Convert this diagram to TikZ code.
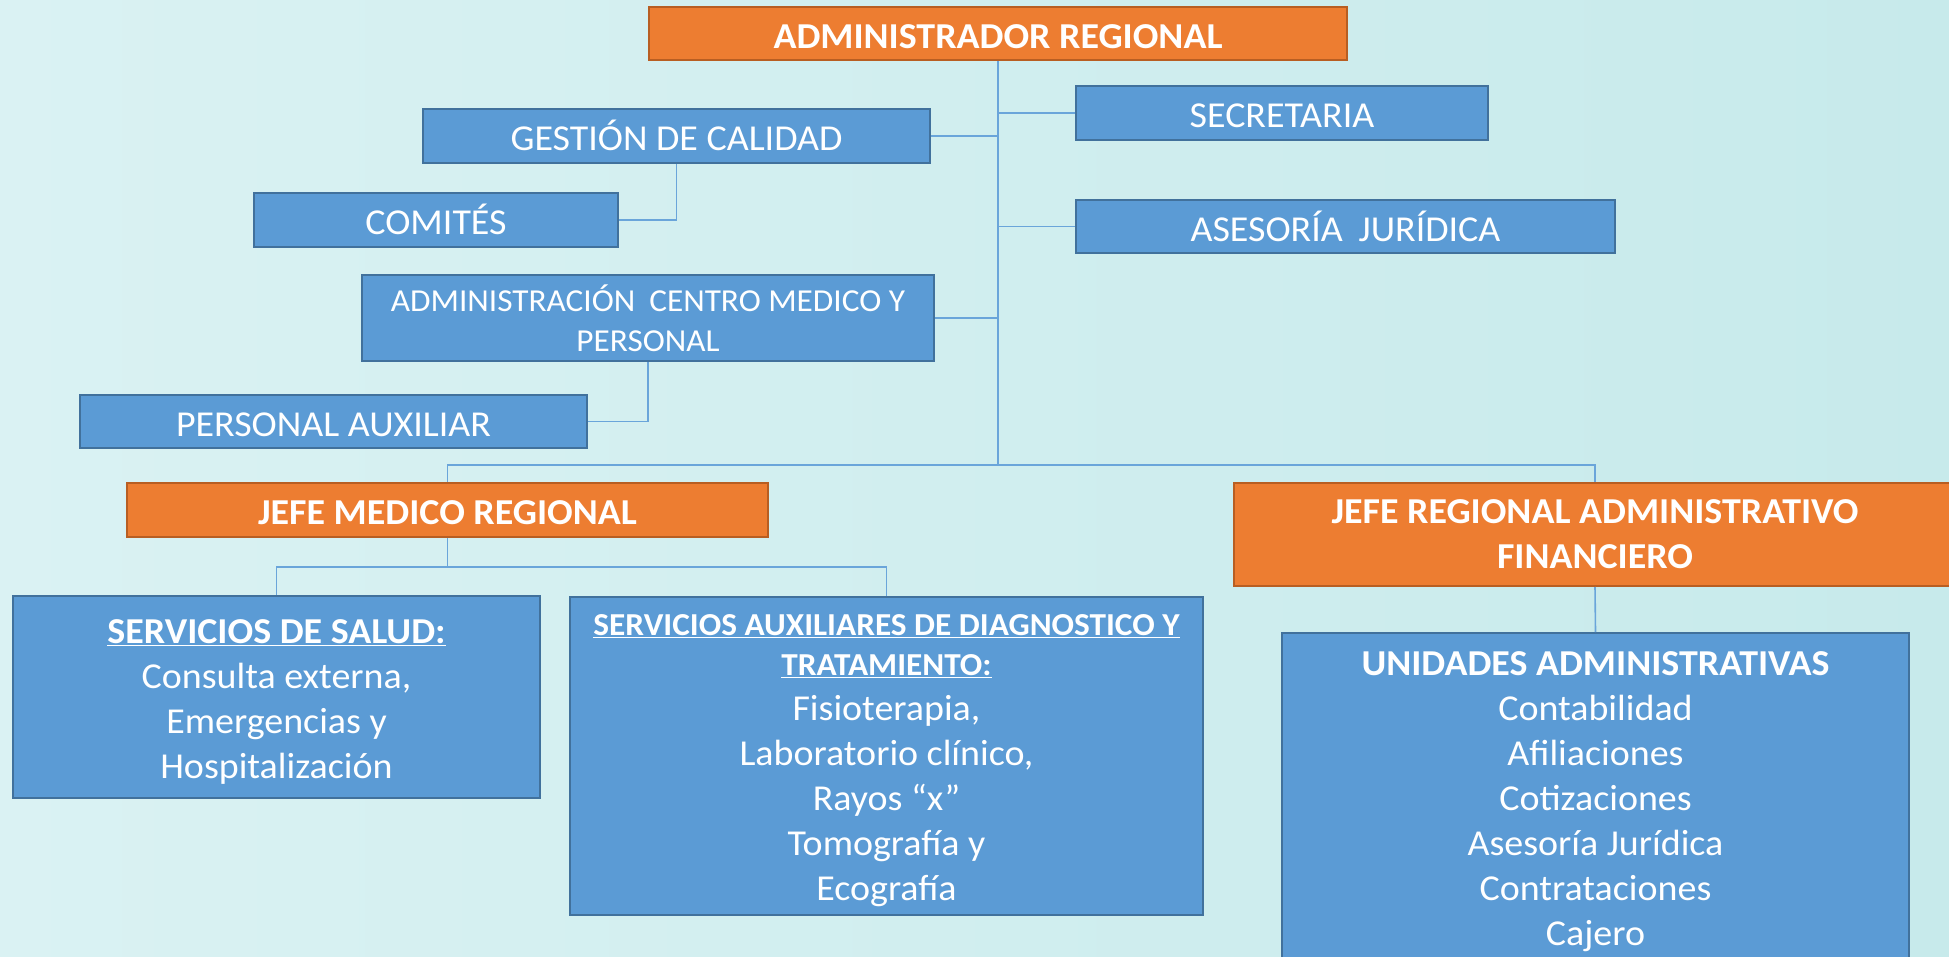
\documentclass[tikz,border=0pt]{standalone}
\usepackage{fontspec}
\setmainfont{Carlito}[FakeStretch=1.04]
\definecolor{boxblue}{HTML}{5B9BD5}
\definecolor{boxedge}{HTML}{41719C}
\definecolor{boxorange}{HTML}{ED7D31}
\definecolor{orangeedge}{HTML}{B85E22}
\definecolor{connblue}{HTML}{6AA5DA}
\definecolor{bgleft}{HTML}{DAF2F3}
\definecolor{bgright}{HTML}{C7EAEB}
\newcommand{\hdsmall}[1]{{\fontsize{32}{40}\selectfont\bfseries\underline{#1}}}
\begin{document}
\begin{tikzpicture}[x=1pt,y=-1pt,
  bluebox/.style={draw=boxedge, fill=boxblue, line width=2pt, text=white, inner sep=0pt, align=center},
  orangebox/.style={draw=orangeedge, fill=boxorange, line width=2pt, text=white, inner sep=0pt, align=center, font=\bfseries\fontsize{36.5}{45}\selectfont},
  conn/.style={draw=connblue, line width=1.6pt},
  oneline/.style={text height=29.5pt, text depth=0pt},
  midfont/.style={font=\fontsize{36.5}{45}\selectfont},
  bodyfont/.style={font=\fontsize{36.5}{45}\selectfont}]
\fill[left color=bgleft, right color=bgright] (0,0) rectangle (1949,957);
\useasboundingbox (0,0) rectangle (1949,957);
\clip (0,0) rectangle (1949,957);

% nodes
\node[orangebox, oneline, minimum width=698pt, minimum height=53pt] (admin) at (998,33.5) {ADMINISTRADOR REGIONAL};
\node[bluebox, midfont, oneline, minimum width=507pt, minimum height=54pt] (gest) at (676.5,136) {GESTIÓN DE CALIDAD};
\node[bluebox, midfont, oneline, minimum width=364pt, minimum height=54pt] (comites) at (436,220) {COMITÉS};
\node[bluebox, font=\fontsize{32}{40}\selectfont, minimum width=572pt, minimum height=86pt] (acm) at (648,318) {ADMINISTRACIÓN\hspace{0.2em} CENTRO MEDICO Y\\PERSONAL};
\node[bluebox, midfont, oneline, minimum width=507pt, minimum height=53pt] (paux) at (333.5,421.5) {PERSONAL AUXILIAR};
\node[bluebox, midfont, oneline, minimum width=412pt, minimum height=54pt] (secr) at (1282,113) {SECRETARIA};
\node[bluebox, midfont, oneline, minimum width=539pt, minimum height=53pt] (aseso) at (1345.5,226.5) {ASESORÍA\hspace{0.2em} JURÍDICA};
\node[orangebox, oneline, minimum width=641pt, minimum height=54pt] (jmr) at (447.5,510) {JEFE MEDICO REGIONAL};
\node[orangebox, minimum width=722pt, minimum height=103pt] (jraf) at (1595,534.5) {JEFE REGIONAL ADMINISTRATIVO\\FINANCIERO};
\node[bluebox, bodyfont, minimum width=527pt, minimum height=202pt] (ss) at (276.5,697) {\rule{0pt}{34pt}\textbf{\underline{SERVICIOS DE SALUD:}}\\Consulta externa,\\Emergencias y\\Hospitalización};
\node[bluebox, bodyfont, minimum width=633pt, minimum height=318pt] (sa) at (886.5,756) {\rule{0pt}{31pt}\hdsmall{SERVICIOS AUXILIARES DE DIAGNOSTICO Y}\\[-5pt]\hdsmall{TRATAMIENTO:}\\Fisioterapia,\\Laboratorio clínico,\\Rayos “x”\\Tomografía y\\Ecografía};
\node[bluebox, bodyfont, minimum width=627pt, minimum height=338pt] (ua) at (1595.5,802) {\textbf{UNIDADES ADMINISTRATIVAS}\\Contabilidad\\Afiliaciones\\Cotizaciones\\Asesoría Jurídica\\Contrataciones\\Cajero};

% connectors
\coordinate (bus) at (998,465);
\coordinate (jb) at (447.5,567);
\draw[conn] (admin.south) -- (bus);
\draw[conn] (gest.east) -- (gest.east -| admin.south);
\draw[conn] (acm.east) -- (acm.east -| admin.south);
\draw[conn] (secr.west) -- (secr.west -| admin.south);
\draw[conn] (aseso.west) -- (aseso.west -| admin.south);
\draw[conn] (gest.south) |- (comites.east);
\draw[conn] (acm.south) |- (paux.east);
\draw[conn] (jmr.north) |- (bus) -| (jraf.north);
\draw[conn] (jmr.south) -- (jb);
\draw[conn] (ss.north) |- (jb) -| (sa.north);
\draw[conn] (jraf.south) -- (ua.north);
\end{tikzpicture}
\end{document}
